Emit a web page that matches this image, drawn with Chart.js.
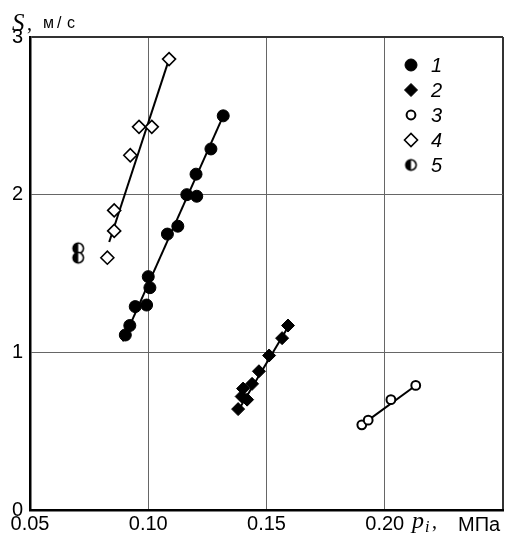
<!DOCTYPE html>
<html>
<head>
<meta charset="utf-8">
<script src="https://cdn.jsdelivr.net/npm/chart.js@4/dist/chart.umd.min.js"></script>
<style>
  html, body { margin: 0; padding: 0; background: #fff; }
</style>
</head>
<body>
<canvas id="chart" width="506" height="534"></canvas>
<script>
// --- data ---
const xRange = [0.05, 0.25];
const yRange = [0, 3];
const seriesLabels = ['1', '2', '3', '4', '5'];

const series1 = [
  { x: 0.0903, y: 1.11 }, { x: 0.0922, y: 1.17 }, { x: 0.0945, y: 1.29 },
  { x: 0.0993, y: 1.30 }, { x: 0.1007, y: 1.41 }, { x: 0.1000, y: 1.48 },
  { x: 0.1081, y: 1.75 }, { x: 0.1125, y: 1.80 }, { x: 0.1163, y: 2.00 },
  { x: 0.1205, y: 1.99 }, { x: 0.1202, y: 2.13 }, { x: 0.1265, y: 2.29 },
  { x: 0.1317, y: 2.50 }
];
const series2 = [
  { x: 0.1380, y: 0.64 }, { x: 0.1395, y: 0.72 }, { x: 0.1418, y: 0.70 },
  { x: 0.1401, y: 0.77 }, { x: 0.1439, y: 0.80 }, { x: 0.1468, y: 0.88 },
  { x: 0.1511, y: 0.98 }, { x: 0.1566, y: 1.09 }, { x: 0.1591, y: 1.17 }
];
const series3 = [
  { x: 0.1903, y: 0.54 }, { x: 0.1930, y: 0.57 },
  { x: 0.2026, y: 0.70 }, { x: 0.2131, y: 0.79 }
];
const series4 = [
  { x: 0.0827, y: 1.60 }, { x: 0.0856, y: 1.77 }, { x: 0.0856, y: 1.90 },
  { x: 0.0924, y: 2.25 }, { x: 0.0961, y: 2.43 }, { x: 0.1015, y: 2.43 },
  { x: 0.1088, y: 2.86 }
];
const series5 = [
  { x: 0.0704, y: 1.66 }, { x: 0.0704, y: 1.60 }
];

// fitted straight lines (end points)
const fit1 = [{ x: 0.0892, y: 1.07 }, { x: 0.1317, y: 2.50 }];
const fit2 = [{ x: 0.1380, y: 0.63 }, { x: 0.1595, y: 1.17 }];
const fit3 = [{ x: 0.1903, y: 0.54 }, { x: 0.2131, y: 0.79 }];
const fit4 = [{ x: 0.0835, y: 1.70 }, { x: 0.1088, y: 2.86 }];

// --- half filled circle marker (series 5) ---
function halfCircle(r) {
  const size = Math.ceil(r * 2 + 4);
  const c = document.createElement('canvas');
  c.width = size; c.height = size;
  const g = c.getContext('2d');
  const m = size / 2;
  g.beginPath(); g.arc(m, m, r, 0, Math.PI * 2);
  g.fillStyle = '#fff'; g.fill();
  g.beginPath(); g.arc(m, m, r, Math.PI / 2, Math.PI * 1.5);
  g.closePath(); g.fillStyle = '#000'; g.fill();
  g.beginPath(); g.arc(m, m, r, 0, Math.PI * 2);
  g.lineWidth = 1.6; g.strokeStyle = '#000'; g.stroke();
  return c;
}
const halfMarker = halfCircle(5.2);

const markerStyles = [
  { pointStyle: 'circle', pointRadius: 6, backgroundColor: '#000', borderColor: '#000', borderWidth: 1 },
  { pointStyle: 'rectRot', pointRadius: 6.5, backgroundColor: '#000', borderColor: '#000', borderWidth: 1 },
  { pointStyle: 'circle', pointRadius: 4.4, backgroundColor: '#fff', borderColor: '#000', borderWidth: 2 },
  { pointStyle: 'rectRot', pointRadius: 6.5, backgroundColor: '#fff', borderColor: '#000', borderWidth: 1.6 },
  { pointStyle: halfMarker, pointRadius: 6, backgroundColor: '#000', borderColor: '#000', borderWidth: 1 }
];

const pointSets = [series1, series2, series3, series4, series5];
const fitSets = [fit1, fit2, fit3, fit4];

const datasets = [];
pointSets.forEach((pts, i) => {
  datasets.push(Object.assign({
    label: seriesLabels[i],
    data: pts,
    order: 1,
    pointHoverRadius: markerStyles[i].pointRadius
  }, markerStyles[i]));
});
fitSets.forEach((pts, i) => {
  datasets.push({
    label: 'fit' + (i + 1),
    data: pts,
    showLine: true,
    borderColor: '#000',
    borderWidth: 2,
    pointRadius: 0,
    order: 10
  });
});

// --- legend inside plot + axis titles ---
const extras = {
  id: 'extras',
  afterDraw(chart) {
    const ctx = chart.ctx;
    ctx.save();
    // legend
    for (let i = 0; i < pointSets.length; i++) {
      const ds = chart.data.datasets[i];
      const x = 411, y = 65 + i * 25;
      ctx.fillStyle = ds.backgroundColor;
      ctx.strokeStyle = ds.borderColor;
      ctx.lineWidth = ds.borderWidth;
      Chart.helpers.drawPoint(ctx, {
        pointStyle: ds.pointStyle, radius: ds.pointRadius, rotation: 0, borderWidth: ds.borderWidth
      }, x, y);
      ctx.fillStyle = '#000';
      ctx.font = 'italic 20px "Liberation Sans", Arial, sans-serif';
      ctx.textBaseline = 'middle';
      ctx.textAlign = 'left';
      ctx.fillText(ds.label, 431, y + 1);
    }
    // y title
    ctx.fillStyle = '#000';
    ctx.textBaseline = 'alphabetic';
    ctx.font = 'italic 25px "Liberation Serif", serif';
    ctx.fillText('S', 12, 31);
    ctx.font = '20px "Liberation Serif", serif';
    ctx.fillText(',', 27, 30);
    ctx.font = '16px "Liberation Sans", Arial, sans-serif';
    ctx.fillText('м', 43, 28);
    ctx.fillText('/', 57, 28);
    ctx.fillText('с', 67, 28);
    // x title
    ctx.font = 'italic 24px "Liberation Serif", serif';
    ctx.fillText('p', 412, 528);
    ctx.font = 'italic 16px "Liberation Serif", serif';
    ctx.fillText('i', 425, 532);
    ctx.font = '20px "Liberation Serif", serif';
    ctx.fillText(',', 432, 528);
    ctx.font = '20px "Liberation Sans", Arial, sans-serif';
    ctx.fillText('МПа', 458, 531);
    ctx.restore();
  }
};

const tickFont = { family: '"Liberation Sans", Arial, sans-serif', size: 20 };

new Chart(document.getElementById('chart'), {
  type: 'scatter',
  data: { datasets },
  options: {
    responsive: false,
    animation: false,
    layout: { autoPadding: false, padding: { top: 37, right: 3, left: 0, bottom: 0 } },
    plugins: {
      legend: { display: false },
      tooltip: { enabled: false }
    },
    scales: {
      x: {
        type: 'linear',
        min: xRange[0],
        max: xRange[1],
        afterFit: (s) => { s.height = 24; s.paddingRight = 0; s.paddingLeft = 0; },
        ticks: {
          stepSize: 0.05,
          color: '#000',
          font: tickFont,
          padding: 2,
          maxRotation: 0,
          callback: (v) => Math.abs(v - 0.25) < 1e-9 ? '' : v.toFixed(2)
        },
        grid: {
          drawTicks: false,
          color: (c) => Math.abs(c.tick.value - 0.25) < 1e-9 ? '#333' : '#666',
          lineWidth: (c) => Math.abs(c.tick.value - 0.25) < 1e-9 ? 2 : 1
        },
        border: { color: '#000', width: 2.5 }
      },
      y: {
        type: 'linear',
        min: yRange[0],
        max: yRange[1],
        afterFit: (s) => { s.width = 30; },
        ticks: {
          stepSize: 1,
          color: '#000',
          font: tickFont,
          padding: 7
        },
        grid: {
          drawTicks: false,
          color: (c) => c.tick.value === 3 ? '#333' : '#666',
          lineWidth: (c) => c.tick.value === 3 ? 2 : 1
        },
        border: { color: '#000', width: 2.5 }
      }
    }
  },
  plugins: [extras]
});
</script>
</body>
</html>
